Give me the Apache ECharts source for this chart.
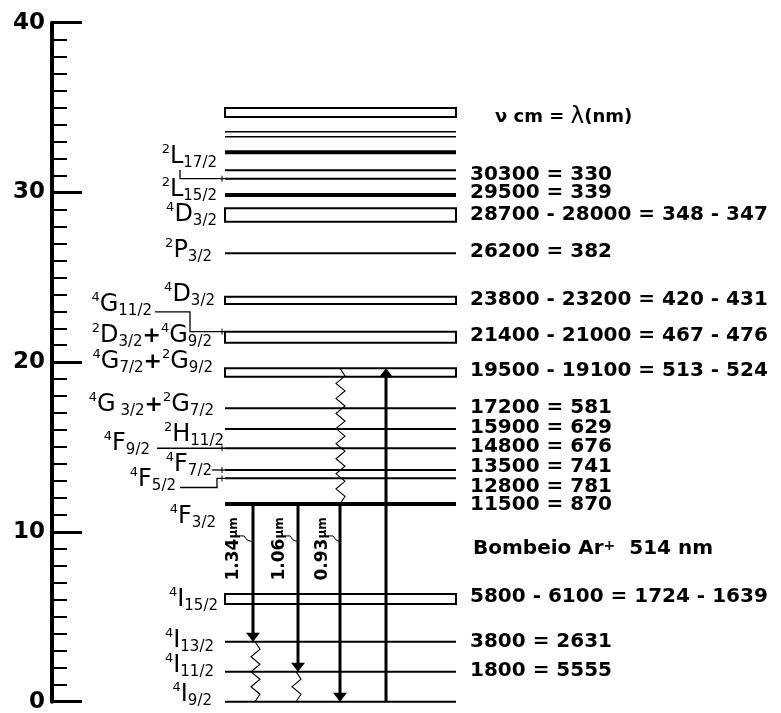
<!DOCTYPE html>
<html>
<head>
<meta charset="utf-8">
<script src="https://cdn.jsdelivr.net/npm/echarts@6/dist/echarts.min.js"></script>
<style>
html,body{margin:0;padding:0;background:#fff;}
#chart{width:781px;height:713px;}
</style>
</head>
<body>
<div id="chart"></div>
<script>
// energy levels (x1000 cm-1)
var levelLow  = [34.44, 33.58, 33.28, 32.37, 31.31, 30.81, 29.85, 28.28, 26.42, 23.43, 21.15, 19.15, 17.28, 16.06, 14.93, 13.65, 13.16, 11.65, 5.76, 3.53, 1.77, 0];
var levelHigh = [34.97, 33.58, 33.28, 32.37, 31.31, 30.81, 29.85, 29.07, 26.42, 23.86, 21.80, 19.64, 17.28, 16.06, 14.93, 13.65, 13.16, 11.65, 6.34, 3.53, 1.77, 0];
var levelType = ['box','fine','fine','thick','line','line','thick','box','line','box','box','box','line','line','line','line','line','thick','box','line','line','line'];

// term symbols (left)
var termText = ['2L17/2','2L15/2','4D3/2','2P3/2','4D3/2','4G11/2','2D3/2+4G9/2','4G7/2+2G9/2','4G 3/2+2G7/2',
    '2H11/2','4F9/2','4F7/2','4F5/2','4F3/2','4I15/2','4I13/2','4I11/2','4I9/2'];
var termY = [32.09, 30.14, 28.67, 26.55, 23.96, 23.37, 21.54, 20.01, 17.48, 15.71, 15.18, 13.94, 13.06, 10.88, 5.99, 3.57, 2.10, 0.39];

// wavenumber = wavelength (right)
var valueText = ['ν cm = λ(nm)','30300 = 330','29500 = 339','28700 - 28000 = 348 - 347','26200 = 382',
    '23800 - 23200 = 420 - 431','21400 - 21000 = 467 - 476','19500 - 19100 = 513 - 524','17200 = 581','15900 = 629',
    '14800 = 676','13500 = 741','12800 = 781','11500 = 870','Bombeio Ar+  514 nm','5800 - 6100 = 1724 - 1639',
    '3800 = 2631','1800 = 5555'];
var valueY = [34.44, 31.03, 29.97, 28.67, 26.49, 23.66, 21.54, 19.48, 17.30, 16.12, 15.01, 13.83, 12.65, 11.59, 9.00, 6.17, 3.52, 1.81];

// laser lines from 4F3/2
var emitFrom = [11.65, 11.65, 11.65];
var emitTo = [3.53, 1.77, 0];
var emitText = ['1.34', '1.06', '0.93'];
// Ar+ pump
var pumpFrom = [0];
var pumpTo = [19.64];
// non radiative decay
var decayFrom = [19.64, 3.53, 1.77];
var decayTo = [11.65, 0, 0];
// leaders from labels to levels
var linkFrom = [31.32, 22.97, 14.93, 13.65, 12.62];
var linkTo = [30.81, 21.80, 14.93, 13.65, 13.16];

// layout (pixels along hidden x axis)
var X0 = 225, X1 = 456;
var termX = [217, 217, 217, 212, 215, 152, 212, 213, 214, 224, 150, 212, 176, 216, 218, 214, 214, 212];
var valueX = [495, 470, 470, 470, 470, 470, 470, 470, 470, 470, 470, 470, 470, 470, 473, 470, 470, 470];
var emitX = [253, 298, 340];
var emitLabelX = [234, 280, 323];
var emitLabelY = 9.0;
var pumpX = [386];
var decayX = [340, 255, 296];
var linkX0 = [180, 155, 157, 212, 180];
var linkBend = [180, 190, 157, 212, 217];

var FONT = "'DejaVu Sans', Verdana, sans-serif";

function termRich(t) {
    return t.split('+').map(function (part) {
        var m = part.match(/^(\d)([A-Z])(.+)$/);
        return '{p|' + m[1] + '}{m|' + m[2] + '}{s|' + m[3] + '}';
    }).join('{b|+}');
}

function valueRich(t, i) {
    if (i === 0) return '{h|ν cm = }{l|λ}{h|(nm)}';
    return t.replace('Ar+', 'Ar{sp|+}');
}

var chart = echarts.init(document.getElementById('chart'));

chart.setOption({
    animation: false,
    backgroundColor: '#fff',
    grid: { left: 52, right: 0, top: 22.7, bottom: 11.3, outerBoundsMode: 'none' },
    xAxis: { type: 'value', min: 52, max: 781, show: false },
    yAxis: {
        type: 'value', min: 0, max: 40, interval: 10,
        axisLine: { show: true, lineStyle: { color: '#000', width: 4 } },
        axisTick: { show: true, inside: true, length: 30, lineStyle: { color: '#000', width: 3 } },
        minorTick: { show: true, splitNumber: 10, length: 15, lineStyle: { color: '#000', width: 2 } },
        axisLabel: { color: '#000', fontFamily: FONT, fontSize: 23, fontWeight: 'bold', margin: 7 },
        splitLine: { show: false }
    },
    series: [
        {
            // levels
            type: 'custom',
            data: levelLow.map(function (v, i) { return [v, levelHigh[i]]; }),
            renderItem: function (params, api) {
                var lo = api.coord([X0, api.value(0)]);
                var hi = api.coord([X1, api.value(1)]);
                var t = levelType[params.dataIndex];
                if (t === 'box') {
                    return { type: 'rect', shape: { x: lo[0], y: hi[1], width: hi[0] - lo[0], height: lo[1] - hi[1] },
                        style: { fill: 'none', stroke: '#000', lineWidth: 2 } };
                }
                return { type: 'line', shape: { x1: lo[0], y1: lo[1], x2: hi[0], y2: lo[1] },
                    style: { stroke: '#000', lineWidth: t === 'thick' ? 4 : (t === 'fine' ? 1.4 : 2) } };
            },
            z: 2
        },
        {
            // leaders
            type: 'custom',
            data: linkFrom.map(function (v, i) { return [v, linkTo[i]]; }),
            renderItem: function (params, api) {
                var i = params.dataIndex;
                var a = api.coord([linkX0[i], api.value(0)]);
                var b = api.coord([linkBend[i], api.value(0)]);
                var c = api.coord([linkBend[i], api.value(1)]);
                var d = api.coord([X0, api.value(1)]);
                return { type: 'group', children: [
                    { type: 'polyline', shape: { points: [a, b, c, d] }, style: { stroke: '#000', lineWidth: 1.3, fill: 'none' } },
                    { type: 'line', shape: { x1: d[0] - 3, y1: d[1] - 3, x2: d[0] - 3, y2: d[1] + 3 }, style: { stroke: '#000', lineWidth: 1 } }
                ] };
            },
            z: 2
        },
        {
            // emissions
            type: 'custom',
            data: emitFrom.map(function (v, i) { return [v, emitTo[i]]; }),
            renderItem: function (params, api) {
                var i = params.dataIndex;
                var a = api.coord([emitX[i], api.value(0)]);
                var b = api.coord([emitX[i], api.value(1)]);
                var l = api.coord([emitLabelX[i], emitLabelY]);
                return { type: 'group', children: [
                    { type: 'line', shape: { x1: a[0], y1: a[1], x2: b[0], y2: b[1] - 6 }, style: { stroke: '#000', lineWidth: 3 } },
                    { type: 'polygon', shape: { points: [[b[0] - 7, b[1] - 9], [b[0] + 7, b[1] - 9], [b[0], b[1]]] }, style: { fill: '#000' } },
                    { type: 'polyline', shape: { points: [[l[0] + 6, l[1] - 13], [l[0] + 10, l[1] - 13], [l[0] + 13, l[1] - 9], [a[0], l[1] - 7]] },
                        style: { stroke: '#000', lineWidth: 1, fill: 'none' } }
                ] };
            },
            z: 3
        },
        {
            // pump
            type: 'custom',
            data: pumpFrom.map(function (v, i) { return [v, pumpTo[i]]; }),
            renderItem: function (params, api) {
                var i = params.dataIndex;
                var a = api.coord([pumpX[i], api.value(0)]);
                var b = api.coord([pumpX[i], api.value(1)]);
                return { type: 'group', children: [
                    { type: 'line', shape: { x1: a[0], y1: a[1], x2: b[0], y2: b[1] + 6 }, style: { stroke: '#000', lineWidth: 3 } },
                    { type: 'polygon', shape: { points: [[b[0] - 7, b[1] + 9], [b[0] + 7, b[1] + 9], [b[0], b[1]]] }, style: { fill: '#000' } }
                ] };
            },
            z: 3
        },
        {
            // non radiative decay
            type: 'custom',
            data: decayFrom.map(function (v, i) { return [v, decayTo[i]]; }),
            renderItem: function (params, api) {
                var i = params.dataIndex;
                var a = api.coord([decayX[i], api.value(0)]);
                var b = api.coord([decayX[i], api.value(1)]);
                var n = Math.max(2, Math.round((b[1] - a[1]) / 7.5));
                var pts = [];
                for (var k = 0; k <= n; k++) {
                    var dx = (k === 0 || k === n) ? 0 : (k % 2 ? 5 : -4);
                    pts.push([a[0] + dx, a[1] + (b[1] - a[1]) * k / n]);
                }
                return { type: 'polyline', shape: { points: pts }, style: { stroke: '#000', lineWidth: 1.1, fill: 'none' } };
            },
            z: 3
        },
        {
            // term symbols
            type: 'scatter',
            symbolSize: 0,
            silent: true,
            itemStyle: { opacity: 1, color: '#000' },
            data: termY.map(function (y, i) { return [termX[i], y]; }),
            label: {
                show: true, position: 'left', distance: 0, color: '#000',
                formatter: function (p) { return termRich(termText[p.dataIndex]); },
                rich: {
                    m: { fontFamily: FONT, fontSize: 24, lineHeight: 28, verticalAlign: 'middle', color: '#000' },
                    p: { fontFamily: FONT, fontSize: 13, lineHeight: 13, verticalAlign: 'top', color: '#000' },
                    s: { fontFamily: FONT, fontSize: 15, lineHeight: 15, verticalAlign: 'bottom', color: '#000' },
                    b: { fontFamily: FONT, fontSize: 22, fontWeight: 'bold', lineHeight: 28, verticalAlign: 'middle', color: '#000' }
                }
            },
            z: 4
        },
        {
            // wavenumbers / wavelengths
            type: 'scatter',
            symbolSize: 0,
            silent: true,
            itemStyle: { opacity: 1, color: '#000' },
            data: valueY.map(function (y, i) { return [valueX[i], y]; }),
            label: {
                show: true, position: 'right', distance: 0,
                fontFamily: FONT, fontSize: 20, fontWeight: 'bold', color: '#000',
                formatter: function (p) { return valueRich(valueText[p.dataIndex], p.dataIndex); },
                rich: {
                    h: { fontFamily: FONT, fontSize: 18, fontWeight: 'bold', color: '#000' },
                    l: { fontFamily: FONT, fontSize: 23, fontWeight: 'normal', color: '#000' },
                    sp: { fontFamily: FONT, fontSize: 14, fontWeight: 'bold', lineHeight: 14, verticalAlign: 'top', color: '#000' }
                }
            },
            z: 4
        },
        {
            // emission wavelengths
            type: 'scatter',
            symbolSize: 0,
            silent: true,
            itemStyle: { opacity: 1, color: '#000' },
            data: emitText.map(function (t, i) { return [emitLabelX[i], emitLabelY]; }),
            label: {
                show: true, position: 'inside', rotate: 90,
                fontFamily: FONT, fontSize: 17, fontWeight: 'bold', color: '#000',
                formatter: function (p) { return emitText[p.dataIndex] + '{u|μm}'; },
                rich: { u: { fontFamily: FONT, fontSize: 12, fontWeight: 'bold', color: '#000' } }
            },
            z: 4
        }
    ]
});
</script>
</body>
</html>
